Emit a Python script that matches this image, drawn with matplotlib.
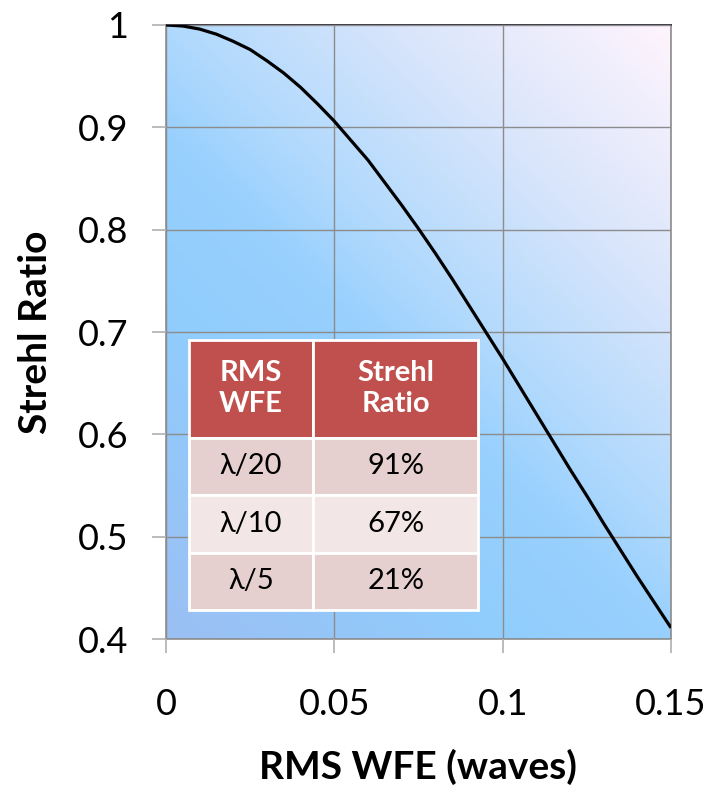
import numpy as np
import matplotlib
matplotlib.use("Agg")
import matplotlib.pyplot as plt
from matplotlib.colors import LinearSegmentedColormap

plt.rcParams['font.family'] = ['Lato', 'DejaVu Sans']

# curve
wfe = [0.0, 0.005, 0.01, 0.015, 0.02, 0.025, 0.03, 0.035, 0.04, 0.045, 0.05,
       0.055, 0.06, 0.065, 0.07, 0.075, 0.08, 0.085, 0.09, 0.095, 0.1,
       0.105, 0.11, 0.115, 0.12, 0.125, 0.13, 0.135, 0.14, 0.145, 0.15]
strehl = [1.0, 0.999, 0.996, 0.991, 0.984, 0.976, 0.965, 0.953, 0.939, 0.923, 0.906,
          0.887, 0.868, 0.846, 0.824, 0.801, 0.777, 0.752, 0.726, 0.700, 0.674,
          0.647, 0.620, 0.593, 0.566, 0.540, 0.513, 0.487, 0.461, 0.436, 0.411]

xticks = [0, 0.05, 0.1, 0.15]
xticklabels = ["0", "0.05", "0.1", "0.15"]
yticks = [0.4, 0.5, 0.6, 0.7, 0.8, 0.9, 1.0]
yticklabels = ["0.4", "0.5", "0.6", "0.7", "0.8", "0.9", "1"]

table_header = ["RMS\nWFE", "Strehl\nRatio"]
table_wfe = ["λ/20", "λ/10", "λ/5"]
table_sr = ["91%", "67%", "21%"]

fig = plt.figure(figsize=(7.16, 8.01), dpi=100)
ax = fig.add_axes([0.2318, 0.2022, 0.7053, 0.7666])

# gradient background (blue bottom-left -> pinkish white top-right)
cmap = LinearSegmentedColormap.from_list("bg", [
    (0.0, "#9bbff3"), (0.3, "#90cdfd"), (0.45, "#98d0fd"),
    (0.55, "#b0d9fd"), (0.75, "#d8e5fb"), (1.0, "#fff4fd")])
u, v = np.meshgrid(np.linspace(0, 1, 300), np.linspace(0, 1, 300))
t = (505 * u + 614 * v) / 1119
ax.imshow(t, cmap=cmap, extent=[0, 0.15, 0.4, 1.0], origin="lower",
          aspect="auto", zorder=0, vmin=0, vmax=1)

ax.plot(wfe, strehl, color="black", lw=2.3, zorder=3, solid_capstyle="butt")

ax.set_xlim(0, 0.15)
ax.set_ylim(0.4, 1.0)
ax.set_xticks(xticks)
ax.set_xticklabels(xticklabels)
ax.set_yticks(yticks)
ax.set_yticklabels(yticklabels)
ax.grid(True, color="#8c8c8c", lw=1.0, zorder=1)
ax.set_axisbelow(False)
ax.tick_params(axis="both", labelsize=26, color="#b0b0b0", width=1.2, length=10)
ax.tick_params(axis="x", pad=25)
ax.tick_params(axis="y", pad=17)
for s in ["left", "right", "bottom"]:
    ax.spines[s].set_color("#8c8c8c")
    ax.spines[s].set_linewidth(1.2)
ax.spines["top"].set_color("#1c1c2c")
ax.spines["top"].set_linewidth(1.2)

ax.set_xlabel("RMS WFE (waves)", fontsize=28, fontweight="bold", labelpad=20)
ax.set_ylabel("Strehl Ratio", fontsize=28, fontweight="bold", labelpad=18)

# inset table
rows = [[a, b] for a, b in zip(table_wfe, table_sr)]
tab = ax.table(cellText=rows, colLabels=table_header, cellLoc="center",
               colWidths=[0.43, 0.57], bbox=[0.0455, 0.047, 0.5725, 0.44])
tab.auto_set_font_size(False)
tab.set_zorder(5)
row_colors = ["#e6cfcf", "#f2e6e7", "#e6cfcf"]
for (r, c), cell in tab.get_celld().items():
    cell.set_edgecolor("white")
    cell.set_linewidth(2.0)
    txt = cell.get_text()
    txt.set_fontsize(21)
    if r == 0:
        cell.set_height(1.7)
        cell.set_facecolor("#c0504d")
        txt.set_color("white")
        txt.set_fontweight("bold")
        txt.set_linespacing(1.25)
    else:
        cell.set_height(1.0)
        cell.set_facecolor(row_colors[r - 1])
        txt.set_color("black")

fig.savefig("out.png", dpi=100)
